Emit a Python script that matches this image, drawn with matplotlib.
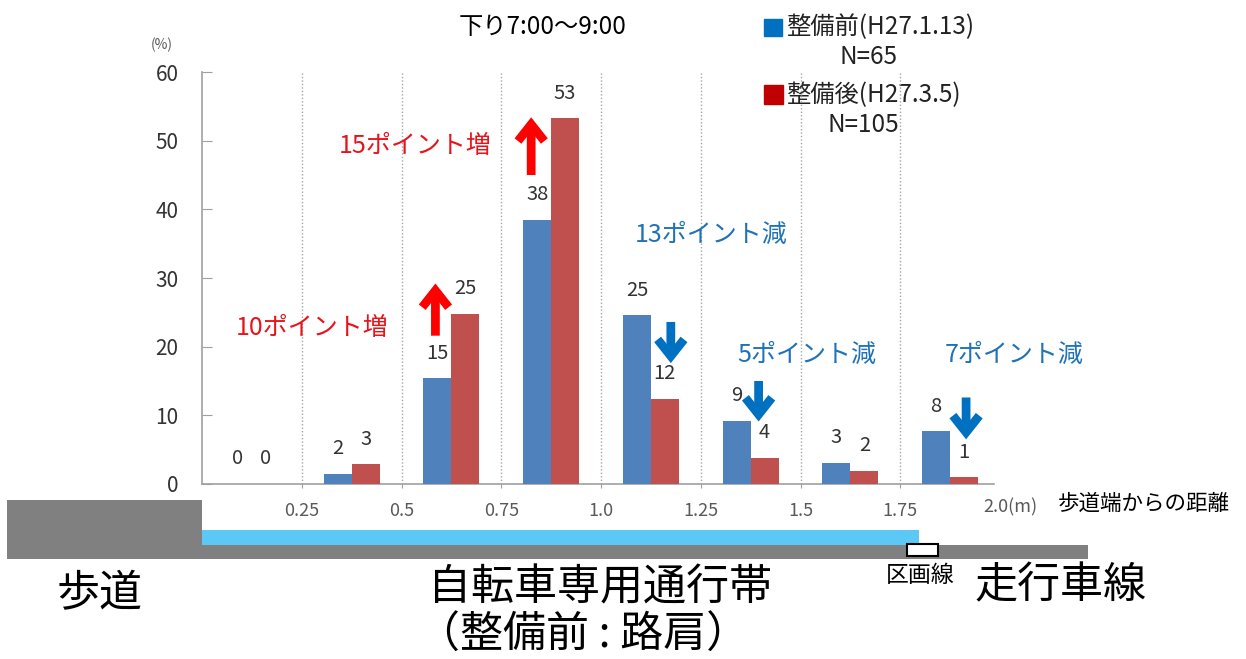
import matplotlib
matplotlib.use("Agg")
import matplotlib.pyplot as plt
from matplotlib.patches import Rectangle
import numpy as np

plt.rcParams['font.family'] = ['Noto Sans CJK JP', 'DejaVu Sans']

# ---- data ----
bins = [0.25, 0.5, 0.75, 1.0, 1.25, 1.5, 1.75, 2.0]
tick_labels = ['0.25', '0.5', '0.75', '1.0', '1.25', '1.5', '1.75']
before_vals = [0, 1.5, 15.4, 38.5, 24.6, 9.2, 3.1, 7.7]
after_vals = [0, 2.9, 24.8, 53.3, 12.4, 3.8, 1.9, 1.0]
before_labels = ['0', '2', '15', '38', '25', '9', '3', '8']
after_labels = ['0', '3', '25', '53', '12', '4', '2', '1']
before_name = '整備前(H27.1.13)'
after_name = '整備後(H27.3.5)'
before_n = 'N=65'
after_n = 'N=105'
title = '下り7:00〜9:00'
# annotations: (text, x, y, kind)
notes = [('10ポイント増', 0.275, 22.7, 'up'),
         ('15ポイント増', 0.535, 49.2, 'up'),
         ('13ポイント減', 1.275, 36.3, 'down'),
         ('5ポイント減', 1.515, 18.8, 'down'),
         ('7ポイント減', 2.035, 18.8, 'down')]
# arrows: (x, y_tail, y_head)
arrows_up = [(0.585, 21.6, 29.2), (0.825, 45.0, 53.4)]
arrows_down = [(1.175, 23.6, 17.6), (1.395, 15.0, 9.1), (1.915, 12.6, 6.5)]

BAR_BLUE = '#4F81BD'
BAR_RED = '#C0504D'
LEG_BLUE = '#0070C0'
LEG_RED = '#C00000'
TXT_RED = '#E8141B'
TXT_BLUE = '#1F72B8'
ARR_RED = '#FF0000'
ARR_BLUE = '#0070C0'

W, H = 1246, 659
fig = plt.figure(figsize=(W / 100, H / 100), dpi=100)
fig.patch.set_facecolor('white')

# background/diagram layer in pixel coordinates
bg = fig.add_axes([0, 0, 1, 1], zorder=0)
bg.set_xlim(0, W)
bg.set_ylim(H, 0)
bg.axis('off')

# main chart
L, R, T, B = 202, 1000, 72, 484
ax = fig.add_axes([L / W, (H - B) / H, (R - L) / W, (B - T) / H], zorder=1)
ax.patch.set_alpha(0)

edges = np.array([0.0] + bins)
centers = (edges[:-1] + edges[1:]) / 2
bw = 0.07
ax.bar(centers - bw / 2, before_vals, width=bw, color=BAR_BLUE, zorder=3)
ax.bar(centers + bw / 2, after_vals, width=bw, color=BAR_RED, zorder=3)

for c, v, s in zip(centers, before_vals, before_labels):
    ax.annotate(s, xy=(c - bw / 2, v), xytext=(0, 25), textcoords='offset pixels',
                ha='center', va='center', fontsize=14.5, color='#333333')
for c, v, s in zip(centers, after_vals, after_labels):
    ax.annotate(s, xy=(c + bw / 2, v), xytext=(0, 25), textcoords='offset pixels',
                ha='center', va='center', fontsize=14.5, color='#333333')

ax.set_xlim(0, 2.0)
ax.set_ylim(0, 60)
ax.set_yticks(range(0, 61, 10))
ax.set_xticks(bins[:-1])
ax.set_xticklabels(tick_labels)
for xv in bins[:-1]:
    ax.axvline(xv, color='#A6A6A6', linestyle=(0, (1, 1.5)), lw=1, zorder=1)
for s in ['top', 'right']:
    ax.spines[s].set_visible(False)
for s in ['left', 'bottom']:
    ax.spines[s].set_color('#A0A0A0')
    ax.spines[s].set_linewidth(1.2)
ax.spines['bottom'].set_bounds(0, 1.985)
ax.tick_params(axis='y', direction='in', length=7, color='#A0A0A0',
               labelsize=15, labelcolor='#333333', pad=17)
ax.tick_params(axis='x', direction='out', length=3, color='#A0A0A0',
               labelsize=13, labelcolor='#595959', pad=10)
ax.annotate('2.0(m)', xy=(2.0, 0), xycoords=('data', 'axes fraction'),
            xytext=(10, -23), textcoords='offset pixels', ha='center', va='center',
            fontsize=13, color='#595959', annotation_clip=False)

for text, x, y, kind in notes:
    ax.text(x, y, text, ha='center', va='center', fontsize=18,
            color=TXT_RED if kind == 'up' else TXT_BLUE, zorder=5)

astyle = '->,head_length=1.2,head_width=0.95'
for x, y0, y1 in arrows_up:
    ax.annotate('', xy=(x, y1), xytext=(x, y0),
                arrowprops=dict(arrowstyle=astyle, lw=6.3, color=ARR_RED,
                                shrinkA=0, shrinkB=0,
                                joinstyle='miter', capstyle='butt'), zorder=5)
for x, y0, y1 in arrows_down:
    ax.annotate('', xy=(x, y1), xytext=(x, y0),
                arrowprops=dict(arrowstyle=astyle, lw=6.3, color=ARR_BLUE,
                                shrinkA=0, shrinkB=0,
                                joinstyle='miter', capstyle='butt'), zorder=5)

# axis unit
bg.text(162, 45, '(%)', ha='center', va='center', fontsize=10, color='#595959')
# title
bg.text(543, 27, title, ha='center', va='center', fontsize=17.5, color='black')
# legend
bg.add_patch(Rectangle((764, 19), 18, 17, color=LEG_BLUE))
bg.text(786, 27, before_name, ha='left', va='center', fontsize=17.5, color='#222222')
bg.text(868, 57, before_n, ha='center', va='center', fontsize=17.5, color='#222222')
bg.add_patch(Rectangle((764, 85), 19, 19, color=LEG_RED))
bg.text(786, 95, after_name, ha='left', va='center', fontsize=17.5, color='#222222')
bg.text(863, 125, after_n, ha='center', va='center', fontsize=17.5, color='#222222')

# road diagram
bg.add_patch(Rectangle((7, 500), 195, 59, color='#808080', lw=0))
bg.add_patch(Rectangle((202, 530), 717, 15, color='#5BC8F5', lw=0))
bg.add_patch(Rectangle((202, 545), 886, 14, color='#808080', lw=0))
bg.add_patch(Rectangle((907, 544), 31, 12, facecolor='white', edgecolor='black', lw=1.5))

bg.text(1144, 504, '歩道端からの距離', ha='center', va='center', fontsize=15.5, color='black')
bg.text(920, 575, '区画線', ha='center', va='center', fontsize=16.5, color='black')
bg.text(1061, 586, '走行車線', ha='center', va='center', fontsize=31, color='black')
bg.text(100, 594, '歩道', ha='center', va='center', fontsize=31, color='black')
bg.text(600, 588, '自転車専用通行帯', ha='center', va='center', fontsize=31, color='black')
bg.text(583, 636, '（整備前 : 路肩）', ha='center', va='center', fontsize=31, color='black')

fig.savefig('out.png', dpi=100, facecolor='white')
